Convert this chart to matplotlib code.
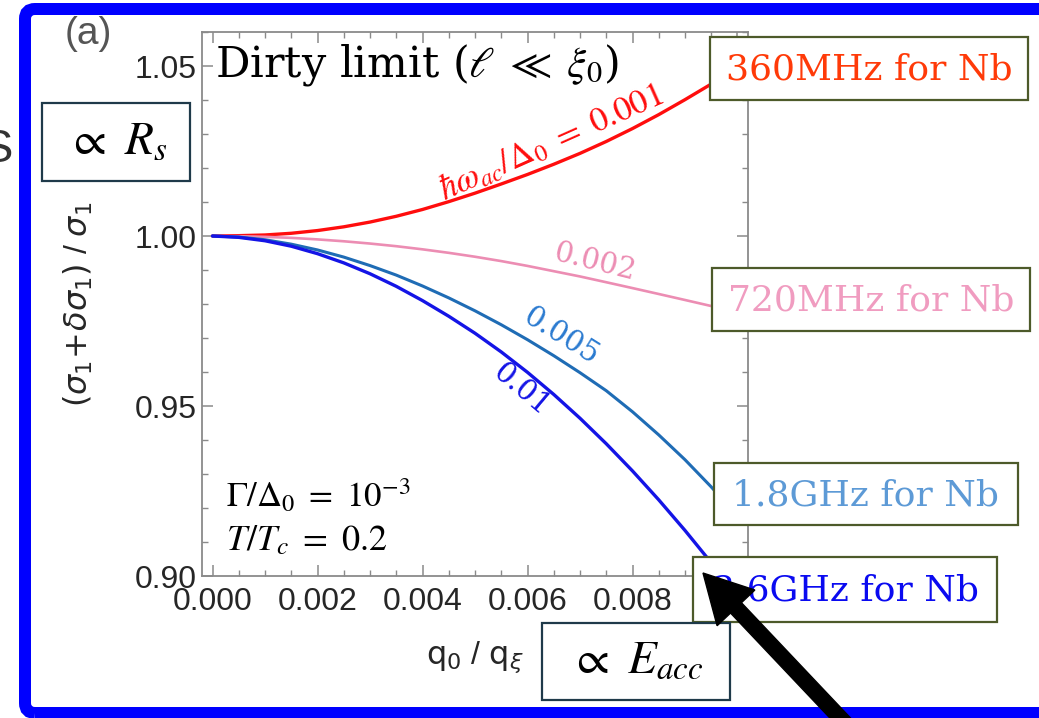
import matplotlib
matplotlib.use("Agg")
import matplotlib.pyplot as plt
from matplotlib.patches import Rectangle, FancyBboxPatch, FancyArrow
from matplotlib.transforms import IdentityTransform
from matplotlib.ticker import MultipleLocator, FixedLocator, FixedFormatter

# q0/q_xi sampled every 0.0005
q_ratio = [0.0, 0.0005, 0.001, 0.0015, 0.002, 0.0025, 0.003, 0.0035, 0.004, 0.0045,
           0.005, 0.0055, 0.006, 0.0065, 0.007, 0.0075, 0.008, 0.0085, 0.009, 0.0095, 0.01]

# (sigma1 + delta sigma1) / sigma1 for each hbar*omega_ac/Delta0
ratio_w001 = [1.0, 1.0001, 1.0003, 1.0008, 1.0016, 1.0027, 1.0041, 1.0058, 1.0078, 1.0101,
              1.0126, 1.0153, 1.0181, 1.0211, 1.0243, 1.0278, 1.0316, 1.0357, 1.0401, 1.0447, 1.0496]
ratio_w002 = [1.0, 0.99994, 0.99975, 0.99945, 0.99900, 0.99845, 0.99778, 0.99700, 0.99608, 0.99505,
              0.99390, 0.99262, 0.99120, 0.98965, 0.98810, 0.98640, 0.98468, 0.98294, 0.98118, 0.97940, 0.97760]
ratio_w005 = [1.0, 0.9997, 0.9989, 0.9976, 0.9959, 0.9938, 0.9913, 0.9885, 0.9853, 0.9818,
              0.9780, 0.9739, 0.9695, 0.9648, 0.9598, 0.9545, 0.9483, 0.9415, 0.9342, 0.9262, 0.9175]
ratio_w010 = [1.0, 0.9996, 0.9986, 0.9970, 0.9948, 0.9921, 0.9889, 0.9852, 0.9810, 0.9764,
              0.9714, 0.9659, 0.9599, 0.9534, 0.9464, 0.9389, 0.9309, 0.9224, 0.9134, 0.9039, 0.8939]

curve_labels = [r"$\hbar\omega_{ac}/\Delta_0\ =\ 0.001$", "0.002", "0.005", "0.01"]
freq_labels = ["360MHz for Nb", "720MHz for Nb", "1.8GHz for Nb", "3.6GHz for Nb"]
x_ticks = [0.000, 0.002, 0.004, 0.006, 0.008, 0.010]
x_tick_labels = ["0.000", "0.002", "0.004", "0.006", "0.008", ""]
y_ticks = [0.90, 0.95, 1.00, 1.05]
y_tick_labels = ["0.90", "0.95", "1.00", "1.05"]

W, H, DPI = 1039, 718, 100
plt.rcParams["font.family"] = ["Liberation Sans", "DejaVu Sans"]
plt.rcParams["mathtext.fontset"] = "stix"

fig = plt.figure(figsize=(W / DPI, H / DPI), dpi=DPI)
fig.patch.set_facecolor("white")
ax = fig.add_axes([202 / W, 1 - 576 / H, 546 / W, 544 / H])

line_colors = ["#ff0d0d", "#ec8db3", "#1f6cb5", "#1414e6"]
line_widths = [2.4, 1.9, 2.2, 2.4]
for vals, c, lw in zip([ratio_w001, ratio_w002, ratio_w005, ratio_w010], line_colors, line_widths):
    ax.plot(q_ratio, vals, color=c, lw=lw, solid_capstyle="round", zorder=3)

ax.set_xlim(-0.0002, 0.0102)
ax.set_ylim(0.90, 1.06)
ax.xaxis.set_major_locator(FixedLocator(x_ticks))
ax.xaxis.set_major_formatter(FixedFormatter(x_tick_labels))
ax.xaxis.set_minor_locator(MultipleLocator(0.0005))
ax.yaxis.set_major_locator(FixedLocator(y_ticks))
ax.yaxis.set_major_formatter(FixedFormatter(y_tick_labels))
ax.yaxis.set_minor_locator(MultipleLocator(0.01))
ax.tick_params(which="both", direction="in", top=True, right=True, color="#8a8a8a",
               labelsize=23, labelcolor="#262626")
ax.tick_params(which="major", length=8, width=1.1)
ax.tick_params(which="minor", length=4.5, width=1.0)
ax.tick_params(axis="x", pad=8)
ax.tick_params(axis="y", pad=4)
for s in ax.spines.values():
    s.set_color("#8a8a8a")
    s.set_linewidth(1.3)

ax.set_ylabel(r"$(\sigma_1\!+\!\delta\sigma_1)$ / $\sigma_1$",
              fontsize=23, color="#262626", math_fontfamily="dejavusans")
ax.yaxis.set_label_coords(-0.196, 0.5)
ax.set_xlabel(r"$\mathrm{q}_0$ / $\mathrm{q}_\xi$", fontsize=23, color="#262626",
              math_fontfamily="dejavusans")
ax.xaxis.set_label_coords(0.5, -0.149)
ax.xaxis.label.set_va("center")

# title and parameters inside the frame
ax.text(0.024, 0.919, r"Dirty limit ($\ell\ \ll\ \xi_0$)", transform=ax.transAxes,
        fontsize=31, family="DejaVu Serif", ha="left", va="baseline", color="black")
ax.text(0.00025, 0.9236, r"$\Gamma/\Delta_0\ =\ 10^{-3}$", fontsize=25, ha="left", va="center")
ax.text(0.00025, 0.9105, r"$T/T_c\ =\ 0.2$", fontsize=26, ha="left", va="center")

# labels along the curves
ax.text(0.00644, 1.0276, curve_labels[0], color=line_colors[0], fontsize=25,
        rotation=24, ha="center", va="center", rotation_mode="anchor")
ax.text(0.00728, 0.99236, curve_labels[1], color="#ec8db3", fontsize=21, family="DejaVu Serif",
        rotation=-14, ha="center", va="center", rotation_mode="anchor")
ax.text(0.00663, 0.97063, curve_labels[2], color="#2a7ad0", fontsize=21, family="DejaVu Serif",
        rotation=-32, ha="center", va="center", rotation_mode="anchor")
ax.text(0.00587, 0.95477, curve_labels[3], color="#1414e6", fontsize=21, family="DejaVu Serif",
        rotation=-40, ha="center", va="center", rotation_mode="anchor")

ident = IdentityTransform()


def box(x0, y0, x1, y1, ec, lw=1.6, z=6):
    fig.add_artist(Rectangle((x0, H - y1), x1 - x0, y1 - y0, transform=ident,
                             facecolor="white", edgecolor=ec, linewidth=lw, zorder=z))


def label(x, y, s, z=7, **kw):
    fig.text(x, H - y, s, transform=ident, ha="center", va="center", zorder=z, **kw)


# frequency boxes
freq_boxes = [(710, 37, 1028, 100), (712, 268, 1030, 331), (714, 463, 1018, 525), (693, 557, 997, 622)]
freq_colors = ["#ff3a08", "#f09cc0", "#5d9ad6", "#0a0af0"]
for (x0, y0, x1, y1), txt, c in zip(freq_boxes, freq_labels, freq_colors):
    box(x0, y0, x1, y1, "#4d5a2a")
    label((x0 + x1) / 2, (y0 + y1) / 2 + 1, txt, color=c, fontsize=26, family="DejaVu Serif")

# proportionality boxes
box(42, 103, 190, 181, "#1f3a4a")
label(117, 142, r"$\propto\ R_s$", fontsize=34, color="black")
box(542, 623, 730, 700, "#1f3a4a")
label(637, 661, r"$\propto\ E_{acc}$", fontsize=34, color="black")

# panel tag and clipped letter at the far left
fig.text(88, H - 34, "(a)", transform=ident, ha="center", va="center", fontsize=28, color="#555555")
fig.text(13, H - 150, "S", transform=ident, ha="right", va="center", fontsize=34, color="#333333")

# blue frame
fig.add_artist(FancyBboxPatch((25, H - 713), 1080, 704, boxstyle="round,pad=0,rounding_size=10",
                              transform=ident, facecolor="none", edgecolor="#0000ff",
                              linewidth=12 * 72 / DPI, zorder=8))

# arrow pointing at the end of the 0.01 curve
fig.add_artist(FancyArrow(861, H - 740, -158, 167, width=15, head_width=52, head_length=48,
                          length_includes_head=True, transform=ident, color="black", zorder=9))

fig.savefig("out.png", dpi=DPI, facecolor="white")
